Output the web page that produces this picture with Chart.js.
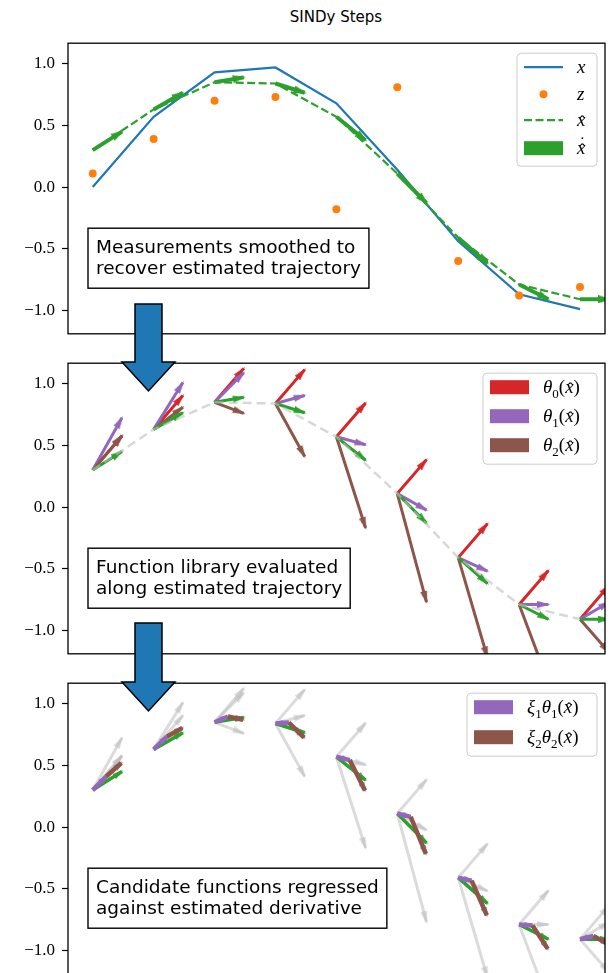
<!DOCTYPE html>
<html>
<head>
<meta charset="utf-8">
<script src="https://cdn.jsdelivr.net/npm/chart.js@4.4.1/dist/chart.umd.min.js"></script>
<style>
  html, body { margin: 0; padding: 0; background: #fff; overflow: hidden; }
  #fig { position: relative; width: 610px; height: 973px; overflow: hidden; }
  #fig canvas { position: absolute; left: 0; }
  #title { position: absolute; top: 8px; left: 68px; width: 536px; text-align: center;
           font: 15px "DejaVu Sans"; color: #000; }
  #arrows { position: absolute; left: 0; top: 0; }
</style>
</head>
<body>
<div id="fig">
  <div id="title">SINDy Steps</div>
  <canvas id="c1" width="610" height="325" style="top:26px;width:610px;height:325px"></canvas>
  <canvas id="c2" width="610" height="325" style="top:346px;width:610px;height:325px"></canvas>
  <canvas id="c3" width="610" height="325" style="top:666px;width:610px;height:325px"></canvas>
  <svg id="arrows" width="610" height="973">
    <polygon points="135,304 162,304 162,362 175,362 148.5,391 122,362 135,362"
             fill="#1f77b4" stroke="#000" stroke-width="1.5"/>
    <polygon points="135,623 162,623 162,682 175,682 148.5,711 122,682 135,682"
             fill="#1f77b4" stroke="#000" stroke-width="1.5"/>
  </svg>
</div>
<script>
// sample index along the trajectory
const sampleIdx = [0, 1, 2, 3, 4, 5, 6, 7, 8];
// true state, noisy measurements, smoothed estimate
const xTrue = [0.0, 0.57, 0.93, 0.97, 0.68, 0.14, -0.44, -0.87, -0.99];
const zMeas = [0.11, 0.39, 0.70, 0.73, -0.18, 0.81, -0.60, -0.88, -0.81];
const xHat  = [0.30, 0.63, 0.85, 0.84, 0.57, 0.11, -0.41, -0.79, -0.91];

// quiver components (U is the same for every arrow of a family, V per point)
const quiverU = 0.48;
const xDotHat = [0.15, 0.135, 0.04, -0.075, -0.19, -0.24, -0.21, -0.12, 0.0];
const theta0  = [0.275, 0.275, 0.275, 0.275, 0.275, 0.275, 0.275, 0.275, 0.275];
const theta1  = [0.425, 0.38, 0.24, 0.065, -0.065, -0.135, -0.11, 0.0, 0.14];
const theta2  = [0.28, 0.18, -0.09, -0.43, -0.74, -0.88, -0.81, -0.63, -0.27];

// regressed terms (xi_k * theta_k)
const xi1U = 0.22;
const xi2U = 0.25;
const xi1Theta1 = [0.11, 0.105, 0.047, 0.008, -0.027, -0.027, -0.025, -0.008, 0.027];
const xi2Theta2 = [0.11, 0.068, -0.027, -0.123, -0.246, -0.30, -0.28, -0.19, -0.068];

const yTicks = [1, 0.5, 0, -0.5, -1];
const yTickLabels = ['1.0', '0.5', '0.0', '\u22120.5', '\u22121.0'];

const BLUE = '#1f77b4', ORANGE = '#ff7f0e', GREEN = '#2ca02c',
      RED = '#d62728', PURPLE = '#9467bd', BROWN = '#8c564b',
      GREY = 'rgba(190,190,190,0.55)';

// arrow head as a little canvas, apex near the centre, pointing up
function headImg(color, w, len) {
  const c = document.createElement('canvas');
  c.width = w; c.height = len * 2;
  const g = c.getContext('2d');
  g.fillStyle = color;
  g.beginPath();
  g.moveTo(w / 2, len - 2);
  g.lineTo(w, 2 * len);
  g.lineTo(0, 2 * len);
  g.closePath();
  g.fill();
  return c;
}

function quiverData(baseX, baseY, u, v) {
  const out = [];
  for (let i = 0; i < baseX.length; i++) {
    out.push({ x: baseX[i], y: baseY[i] });
    out.push({ x: baseX[i] + u, y: baseY[i] + v[i], x0: baseX[i], y0: baseY[i], tip: true });
    out.push({ x: baseX[i], y: null });
  }
  return out;
}

function quiver(data, color, width, head) {
  return {
    type: 'line', data, borderColor: color, borderWidth: width, borderCapStyle: 'butt',
    spanGaps: false, clip: 0,
    pointStyle: head,
    pointRadius: c => (c.raw && c.raw.tip ? 4 : 0),
    pointHoverRadius: c => (c.raw && c.raw.tip ? 4 : 0),
    pointRotation: c => {
      const r = c.raw;
      if (!r || !r.tip) return 0;
      const xs = c.chart.scales.x, ys = c.chart.scales.y;
      const dx = xs.getPixelForValue(r.x) - xs.getPixelForValue(r.x0);
      const dy = ys.getPixelForValue(r.y) - ys.getPixelForValue(r.y0);
      return Math.atan2(dx, -dy) * 180 / Math.PI;
    }
  };
}

function series(vals, extra) {
  return Object.assign({
    type: 'line', data: sampleIdx.map((t, i) => ({ x: t, y: vals[i] })),
    pointRadius: 0, clip: 0, borderCapStyle: 'butt'
  }, extra);
}

// small math label renderer: letters italic, digits/brackets upright
function drawMath(ctx, x, y, runs) {
  ctx.textAlign = 'left';
  ctx.textBaseline = 'alphabetic';
  for (const r of runs) {
    const size = r.sub ? 13 : 19;
    ctx.font = (r.up ? '' : 'italic ') + size + 'px "Liberation Serif"';
    const yy = y + (r.sub ? 5 : 0);
    ctx.fillText(r.t, x, yy);
    const w = ctx.measureText(r.t).width;
    if (r.hat) {
      ctx.font = '17px "Liberation Serif"';
      ctx.textAlign = 'center';
      ctx.fillText('\u02C6', x + w / 2 + 1, yy + 1);
      if (r.dot) ctx.fillText('\u02D9', x + w / 2 + 1, yy - 6);
      ctx.textAlign = 'left';
    }
    x += w;
  }
}

const xhatRun = { t: 'x', hat: true };
const labels = {
  x: [{ t: 'x' }],
  z: [{ t: 'z' }],
  xhat: [xhatRun],
  xdot: [{ t: 'x', hat: true, dot: true }],
  th0: [{ t: '\u03B8' }, { t: '0', sub: true, up: true }, { t: '(', up: true }, xhatRun, { t: ')', up: true }],
  th1: [{ t: '\u03B8' }, { t: '1', sub: true, up: true }, { t: '(', up: true }, xhatRun, { t: ')', up: true }],
  th2: [{ t: '\u03B8' }, { t: '2', sub: true, up: true }, { t: '(', up: true }, xhatRun, { t: ')', up: true }],
  xt1: [{ t: '\u03BE' }, { t: '1', sub: true, up: true }, { t: '\u03B8' }, { t: '1', sub: true, up: true },
        { t: '(', up: true }, xhatRun, { t: ')', up: true }],
  xt2: [{ t: '\u03BE' }, { t: '2', sub: true, up: true }, { t: '\u03B8' }, { t: '2', sub: true, up: true },
        { t: '(', up: true }, xhatRun, { t: ')', up: true }]
};

function roundRect(ctx, x, y, w, h, r) {
  ctx.beginPath();
  ctx.moveTo(x + r, y);
  ctx.arcTo(x + w, y, x + w, y + h, r);
  ctx.arcTo(x + w, y + h, x, y + h, r);
  ctx.arcTo(x, y + h, x, y, r);
  ctx.arcTo(x, y, x + w, y, r);
  ctx.closePath();
}

const panelDeco = {
  id: 'panelDeco',
  afterDraw(chart, args, opts) {
    const ctx = chart.ctx, a = chart.chartArea;
    ctx.save();
    // text box
    if (opts.box) {
      ctx.font = '18.5px "DejaVu Sans"';
      const tw = Math.max(...opts.box.lines.map(l => ctx.measureText(l).width));
      const bx = a.left + 20, by = a.top + 185, bw = tw + 16, bh = 60;
      ctx.fillStyle = '#fff';
      ctx.fillRect(bx, by, bw, bh);
      ctx.strokeStyle = '#000';
      ctx.lineWidth = 1.4;
      ctx.strokeRect(bx, by, bw, bh);
      ctx.fillStyle = '#000';
      ctx.textAlign = 'left';
      ctx.textBaseline = 'alphabetic';
      ctx.fillText(opts.box.lines[0], bx + 8, by + 25);
      ctx.fillText(opts.box.lines[1], bx + 8, by + 46);
    }
    // legend
    if (opts.legend) {
      const L = opts.legend;
      const lx = a.right - 8 - L.w, ly = a.top + 10;
      roundRect(ctx, lx, ly, L.w, L.h, 4);
      ctx.fillStyle = 'rgba(255,255,255,0.8)';
      ctx.fill();
      ctx.strokeStyle = '#cccccc';
      ctx.lineWidth = 1;
      ctx.stroke();
      L.items.forEach((it, k) => {
        const cy = ly + L.rows[k];
        const hx = lx + 7, hw = 39;
        ctx.fillStyle = it.color;
        ctx.strokeStyle = it.color;
        if (it.kind === 'line' || it.kind === 'dash') {
          ctx.lineWidth = 2.2;
          ctx.setLineDash(it.kind === 'dash' ? [8, 3.5] : []);
          ctx.beginPath(); ctx.moveTo(hx, cy); ctx.lineTo(hx + hw, cy); ctx.stroke();
          ctx.setLineDash([]);
        } else if (it.kind === 'dot') {
          ctx.beginPath(); ctx.arc(hx + hw / 2, cy, 4, 0, Math.PI * 2); ctx.fill();
        } else {
          ctx.fillRect(hx, cy - 7, hw, 14);
        }
        ctx.fillStyle = '#000';
        drawMath(ctx, hx + hw + 14, cy + 6, labels[it.label]);
      });
    }
    // spines
    ctx.strokeStyle = '#000';
    ctx.lineWidth = 1.3;
    ctx.strokeRect(a.left, a.top, a.right - a.left, a.bottom - a.top);
    ctx.restore();
  }
};

function makeOptions(deco) {
  return {
    responsive: false, animation: false, events: [],
    layout: { padding: { top: 10, bottom: 10, left: 0, right: 5 } },
    scales: {
      x: { type: 'linear', min: -0.406, max: 8.41, display: false },
      y: {
        type: 'linear', min: -1.19, max: 1.167,
        afterBuildTicks: s => { s.ticks = yTicks.map(v => ({ value: v })); },
        afterFit: s => { s.width = 68; },
        ticks: {
          callback: v => yTickLabels[yTicks.indexOf(v)],
          color: '#000', font: { family: 'Liberation Serif', size: 17 }, padding: 7
        },
        grid: { drawOnChartArea: false, drawTicks: true, tickLength: 6, tickColor: '#000', tickWidth: 1.2 },
        border: { display: false }
      }
    },
    plugins: { legend: { display: false }, tooltip: { enabled: false }, panelDeco: deco }
  };
}

const trajIdx = sampleIdx;

// ---- panel 1: measurements and smoothing
const p1 = [ // listed bottom to top
  series(xTrue, { borderColor: BLUE, borderWidth: 2.2 }),
  series(zMeas, { showLine: false, pointRadius: 4, pointBackgroundColor: ORANGE, pointBorderWidth: 0 }),
  series(xHat, { borderColor: GREEN, borderWidth: 2.2, borderDash: [8, 3.5] }),
  quiver(quiverData(trajIdx, xHat, quiverU, xDotHat), GREEN, 4, headImg(GREEN, 8, 11))
];
new Chart(document.getElementById('c1'), {
  data: { datasets: p1.reverse() },
  options: makeOptions({
    box: { lines: ['Measurements smoothed to', 'recover estimated trajectory'] },
    legend: {
      w: 80, h: 113, rows: [14, 41, 67, 95],
      items: [
        { kind: 'line', color: BLUE, label: 'x' },
        { kind: 'dot', color: ORANGE, label: 'z' },
        { kind: 'dash', color: GREEN, label: 'xhat' },
        { kind: 'rect', color: GREEN, label: 'xdot' }
      ]
    }
  }),
  plugins: [panelDeco]
});

// ---- panel 2: library evaluated along trajectory
const p2 = [
  quiver(quiverData(trajIdx, xHat, quiverU, theta0), RED, 3, headImg(RED, 7, 11)),
  quiver(quiverData(trajIdx, xHat, quiverU, theta1), PURPLE, 3, headImg(PURPLE, 7, 11)),
  quiver(quiverData(trajIdx, xHat, quiverU, theta2), BROWN, 3, headImg(BROWN, 7, 11)),
  quiver(quiverData(trajIdx, xHat, quiverU, xDotHat), GREEN, 3, headImg(GREEN, 7, 11)),
  series(xHat, { borderColor: 'rgba(190,190,190,0.6)', borderWidth: 2.5, borderDash: [9, 5] })
];
new Chart(document.getElementById('c2'), {
  data: { datasets: p2.reverse() },
  options: makeOptions({
    box: { lines: ['Function library evaluated', 'along estimated trajectory'] },
    legend: {
      w: 114, h: 91, rows: [14, 43, 72],
      items: [
        { kind: 'rect', color: RED, label: 'th0' },
        { kind: 'rect', color: PURPLE, label: 'th1' },
        { kind: 'rect', color: BROWN, label: 'th2' }
      ]
    }
  }),
  plugins: [panelDeco]
});

// ---- panel 3: regressed terms
const brownBaseX = sampleIdx.map(t => t + xi1U);
const brownBaseY = xHat.map((v, i) => v + xi1Theta1[i]);
const greyHead = headImg(GREY, 7, 11);
const p3 = [
  quiver(quiverData(trajIdx, xHat, quiverU, theta0), GREY, 3, greyHead),
  quiver(quiverData(trajIdx, xHat, quiverU, theta1), GREY, 3, greyHead),
  quiver(quiverData(trajIdx, xHat, quiverU, theta2), GREY, 3, greyHead),
  quiver(quiverData(trajIdx, xHat, quiverU, xDotHat), GREEN, 3.5, headImg(GREEN, 6, 9)),
  quiver(quiverData(trajIdx, xHat, xi1U, xi1Theta1), PURPLE, 4.5, headImg(PURPLE, 6, 8)),
  quiver(quiverData(brownBaseX, brownBaseY, xi2U, xi2Theta2), BROWN, 4.5, headImg(BROWN, 6, 8))
];
new Chart(document.getElementById('c3'), {
  data: { datasets: p3.reverse() },
  options: makeOptions({
    box: { lines: ['Candidate functions regressed', 'against estimated derivative'] },
    legend: {
      w: 130, h: 63, rows: [14, 44],
      items: [
        { kind: 'rect', color: PURPLE, label: 'xt1' },
        { kind: 'rect', color: BROWN, label: 'xt2' }
      ]
    }
  }),
  plugins: [panelDeco]
});
</script>
</body>
</html>
